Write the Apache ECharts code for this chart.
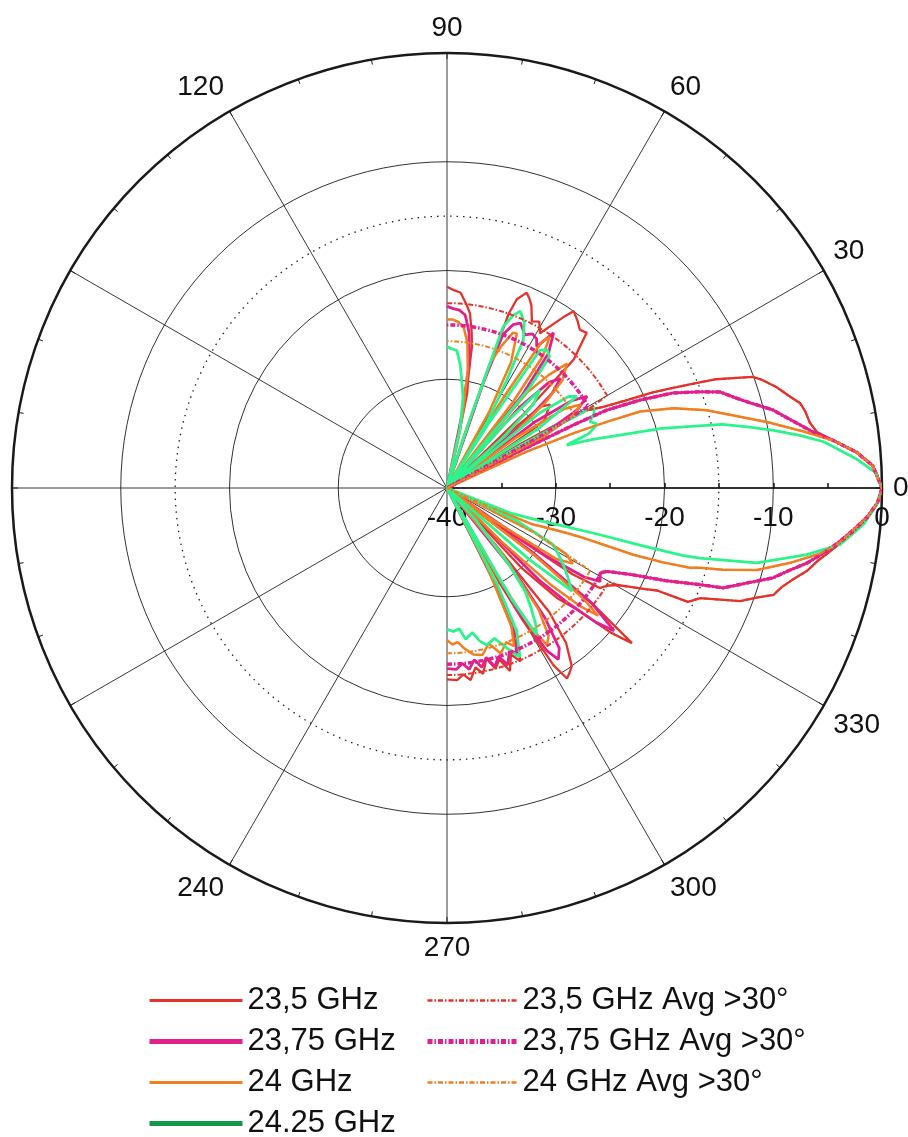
<!DOCTYPE html>
<html>
<head>
<meta charset="utf-8">
<script src="https://cdn.jsdelivr.net/npm/echarts@6/dist/echarts.min.js"></script>
<style>
html,body{margin:0;padding:0;background:#fff;}
#c{width:908px;height:1137px;}
</style>
</head>
<body>
<div id="c"></div>
<script>
// ---- data: [angle (deg, -90..90), level (dB)] ----
const red235 = [[-90,-22.4],[-87,-22.3],[-85,-22.8],[-83,-22.2],[-81,-23.3],[-79,-22.6],[-77,-23.9],[-75,-22.8],[-73,-23.5],[-71,-22.2],[-69,-23.6],[-67,-22.7],[-65,-25],[-63.5,-30],[-62,-40],[-61,-30],[-60.2,-26],[-59,-21],[-57.8,-19.3],[-56.5,-19.6],[-55,-20],[-52.5,-22],[-50.5,-25.2],[-49.5,-33],[-48.5,-40],[-47,-30],[-45,-25.7],[-43,-23.5],[-41.5,-20],[-40,-17.8],[-38.5,-23],[-37.5,-30],[-36.5,-40],[-35.5,-33],[-34.5,-26],[-33.2,-23.2],[-31.5,-22.8],[-29.7,-22],[-28.5,-21],[-27,-19.5],[-26,-18.5],[-25.3,-15.5],[-23.5,-14.6],[-21.1,-11.1],[-19.5,-9.8],[-18.1,-8.4],[-16.5,-7.9],[-15,-7.2],[-13,-6.05],[-11,-5.2],[-9.4,-4.3],[-8,-3.5],[-6,-2.3],[-4,-1.2],[-2,-0.4],[0,0],[2,-0.5],[3,-0.8],[5,-2.2],[7,-4.2],[8.6,-5.6],[10.2,-6.1],[12,-6.3],[13.5,-6.6],[15,-7.4],[17,-8.3],[19,-9.4],[20,-10.1],[21,-11.8],[22,-13.3],[23,-15.5],[24,-17.5],[25,-19.3],[26,-21.5],[27.4,-23.8],[29,-25.3],[30,-27.5],[31,-32],[32,-40],[33,-36],[34,-31],[35,-29],[37,-28.5],[39,-27.8],[41,-28.6],[42,-33],[43,-38],[44,-30],[45.4,-23.4],[46.7,-22.2],[48,-20.8],[50,-21],[52,-20.5],[54.4,-20],[55.5,-20.8],[57,-22],[59,-23.4],[61,-22.5],[63,-22.8],[65.2,-21.5],[66.5,-21],[67.8,-20.6],[69.7,-21.5],[70.5,-23],[71,-30],[72,-40],[76,-40],[77,-36],[78,-31],[79,-29.9],[80,-26.8],[81,-25.5],[82.5,-23.8],[84,-23],[86,-22],[88,-21.8],[90,-21.5]];

const mag2375 = [[-90,-23.4],[-87,-23.3],[-85,-23.8],[-83,-23.2],[-81,-24],[-79,-23.2],[-77,-24],[-75,-23],[-73,-23.8],[-71,-22.8],[-69,-24],[-67,-23.5],[-65,-25.5],[-63,-31],[-61.5,-40],[-60,-27],[-58.5,-22.5],[-57,-21.2],[-55,-22],[-53,-25],[-51,-30],[-49.5,-40],[-46.5,-40],[-45,-28],[-43.5,-24.5],[-42,-21.5],[-40.5,-19.8],[-38.5,-23],[-37,-30],[-35.8,-40],[-34.5,-29],[-33,-25],[-31.4,-23.5],[-29,-23.9],[-27.5,-23.4],[-25,-21.1],[-23,-18.2],[-20.9,-15.1],[-19.9,-13],[-17.5,-11],[-15.4,-8.9],[-13.5,-7.6],[-11.8,-6.2],[-10,-5],[-8,-3.7],[-6,-2.5],[-4,-1.3],[-2,-0.4],[0,0],[3,-0.8],[5,-2.2],[7,-4.2],[8.7,-5.95],[10.1,-7],[12,-8.3],[13.5,-9.2],[15.7,-11.05],[17.5,-12.3],[19.4,-13.4],[20.8,-15.1],[22.8,-17.45],[24.5,-20.5],[26,-23.65],[26.5,-27],[27,-33],[27.5,-40],[29,-30],[31,-26],[33.2,-24.6],[35,-26],[37,-30],[38,-40],[40,-31],[42,-27],[44,-25.5],[46,-26.5],[48,-30],[49,-40],[51,-29],[53,-24.5],[55.5,-22.7],[57.6,-24.6],[59,-24],[61,-23.8],[63,-24.2],[66,-23.4],[68,-23.8],[70,-25],[71,-30],[72,-40],[77,-40],[78.5,-33],[80,-28],[82,-25.5],[84,-24],[86,-23.6],[88,-23.5],[90,-23.3]];

const ora24 = [[-90,-26],[-88,-25.6],[-86,-25.8],[-84,-25.2],[-81,-24.5],[-78,-24.3],[-75,-25.2],[-72,-24],[-69,-24.8],[-67,-24.2],[-65,-26],[-63,-32],[-61.5,-40],[-60.5,-31],[-59,-25],[-57.5,-22.9],[-55.5,-23.5],[-53,-26],[-50,-32],[-48,-40],[-45.5,-40],[-44.5,-33],[-43,-27],[-41.5,-23.5],[-40.2,-21.8],[-39,-24],[-37.5,-30],[-36,-40],[-35,-35],[-33,-28],[-31,-26.5],[-29,-27.5],[-27,-31],[-25,-40],[-24,-36],[-23,-31.4],[-22,-30.5],[-20.5,-28],[-20.1,-26.6],[-19.7,-21.8],[-19,-19],[-18.2,-16.5],[-17.5,-15.6],[-16.5,-13.5],[-14.8,-10.5],[-12.3,-7.7],[-10,-5.2],[-8,-3.6],[-6,-2.5],[-4,-1.3],[-2,-0.4],[0,0],[3,-0.8],[5,-2.2],[7,-4.2],[9,-6.8],[11.5,-9.8],[14,-12.6],[16.7,-15.1],[19.4,-17.9],[21.6,-20.9],[22.5,-24.1],[23.4,-27.3],[24.5,-32],[25.5,-40],[28,-30],[30,-26.5],[32,-25.5],[34,-27],[36,-32],[37,-40],[39,-32],[41,-28],[43,-25.5],[46,-24.1],[48,-26],[50,-28.5],[51,-40],[52.5,-30],[54,-25],[55.8,-23.2],[57,-24],[58,-30],[59,-40],[61,-32],[63,-27],[65.7,-24.4],[67,-24.5],[69,-26],[71,-27.9],[72,-35],[73,-40],[77,-40],[78,-33],[80,-29],[82,-26.5],[84,-25.2],[86,-24.7],[88,-24.5],[90,-24.5]];

const grn2425 = [[-90,-27],[-87.5,-26.8],[-85,-27],[-83,-26],[-80,-26.5],[-77.9,-25.6],[-75.8,-25.1],[-72.5,-25.5],[-70,-24.5],[-67.5,-23.4],[-66.6,-23.1],[-64,-25.4],[-62.5,-30],[-61,-40],[-59.8,-28],[-58.6,-24.2],[-57,-25],[-55,-26.5],[-53,-28],[-51,-31],[-48,-36],[-45,-40],[-42,-40],[-41,-30],[-39.5,-25.1],[-37,-26],[-34,-27],[-31,-28],[-28,-29],[-25,-33],[-22.5,-40],[-21.6,-33.8],[-19.5,-31],[-18,-28.5],[-17,-25.3],[-16.5,-21.5],[-16,-17.5],[-15.5,-15.9],[-13.6,-10.7],[-10.5,-6.35],[-8.2,-3.5],[-5,-1.55],[-2.2,-0.45],[0,0],[2,-0.5],[4,-2.2],[6,-4.2],[7,-5.1],[8.5,-7.2],[10,-9.5],[11.5,-11.8],[13,-14],[14,-16.5],[15.5,-19.5],[17,-23.4],[18.5,-26],[19.7,-28.3],[21,-26],[23,-25],[25,-25.5],[27,-24.8],[29,-24.6],[30,-32],[31,-40],[33,-30],[35.2,-25.4],[37,-26],[39,-29],[40,-40],[42,-33],[44,-29],[46.5,-27.6],[48,-32],[49,-40],[50.5,-28],[52,-24.7],[54,-24.3],[56,-24.7],[57.2,-33],[57.8,-40],[58.5,-33],[61,-28.7],[62.7,-24.7],[65,-23.2],[67.5,-22.4],[69,-23],[70.8,-24.3],[71.5,-33],[72.5,-40],[76,-40],[77.4,-34.5],[80,-31.5],[82.2,-30],[84,-28.5],[86,-27.3],[88,-27.2],[90,-27]];

// average levels beyond 30 deg: [lower half (-90..-30), upper half (30..90)]
const avg235 = [-22.8, -23];
const avg2375 = [-23.8, -25];
const avg24 = [-24.8, -26.5];

const hiddenAngleLabels = [150,180,210,360];
const radiusTicks = [-40,-30,-20,-10,0];
const refRing = -15;

const names = ['23,5 GHz','23,75 GHz','24 GHz','24.25 GHz','23,5 GHz Avg >30°','23,75 GHz Avg >30°','24 GHz Avg >30°'];
const colors = {red:'#e3342b', mag:'#e2208c', ora:'#f07f22', grn:'#2cf48c', grnLegend:'#13964a'};

// ---- helpers ----
function toPolar(pairs){ return pairs.map(p => [p[1], (p[0] + 360) % 360]); }
function avgCurve(pattern, lv){
  const pts = [];
  for (let a = -90; a <= -30; a += 2) pts.push([a, lv[0]]);
  pattern.forEach(p => { if (p[0] > -30 && p[0] < 30) pts.push(p); });
  for (let a = 30; a <= 90; a += 2) pts.push([a, lv[1]]);
  return pts;
}
const ringPts = [];
for (let a = 0; a <= 360; a += 2) ringPts.push([refRing, a]);

const chart = echarts.init(document.getElementById('c'));
const FONT = 'Liberation Sans, Arial, sans-serif';

function solid(name, data, color, width){
  return {name, type:'line', coordinateSystem:'polar', data: toPolar(data), symbol:'none',
    lineStyle:{color, width}, itemStyle:{color}, animation:false, z:3};
}
function dashed(name, data, color, width, dash){
  return {name, type:'line', coordinateSystem:'polar', data: toPolar(data), symbol:'none',
    lineStyle:{color, width, type: dash}, itemStyle:{color}, animation:false, z:4};
}
const legendCommon = {
  orient:'vertical', top:985, height:170, padding:0, itemHeight:14, itemGap:10,
  textStyle:{fontSize:31, color:'#111', fontFamily:FONT},
  itemStyle:{opacity:0}, selectedMode:false
};

chart.setOption({
  backgroundColor:'#fff',
  animation:false,
  polar:{center:[447,488], radius:435},
  angleAxis:{
    type:'value', min:0, max:360, interval:30, startAngle:0, clockwise:false,
    axisLine:{show:true, lineStyle:{color:'#1a1a1a', width:2.5}},
    axisTick:{show:true, inside:true, length:6, lineStyle:{color:'#1a1a1a', width:1}},
    minorTick:{show:true, splitNumber:3, length:5, lineStyle:{color:'#1a1a1a', width:1}},
    splitLine:{show:true, lineStyle:{color:'#222', width:0.9}},
    axisLabel:{show:true, margin:11, fontSize:28, color:'#111', fontFamily:FONT,
      formatter: v => hiddenAngleLabels.indexOf(v) >= 0 ? '' : String(v)}
  },
  radiusAxis:{
    type:'value', min:radiusTicks[0], max:radiusTicks[radiusTicks.length-1], interval:10,
    axisLine:{show:true, lineStyle:{color:'#111', width:1.5}},
    axisTick:{show:true, inside:false, length:5, lineStyle:{color:'#111', width:1.5}},
    minorTick:{show:true, splitNumber:2, length:5, lineStyle:{color:'#111', width:1.5}},
    splitLine:{show:true, lineStyle:{color:'#333', width:1}},
    axisLabel:{show:true, margin:-44, fontSize:28, color:'#111', fontFamily:FONT}
  },
  legend:[Object.assign({}, legendCommon, {
    left:147, itemWidth:93,
    data:[{name:names[0], lineStyle:{width:3}},{name:names[1], lineStyle:{width:5}},{name:names[2], lineStyle:{width:3}},
      {name:names[3], lineStyle:{color:colors.grnLegend, width:5}}]
  }), Object.assign({}, legendCommon, {
    left:425, itemWidth:90,
    data:[{name:names[4], lineStyle:{width:2.5}},{name:names[5], lineStyle:{width:5}},{name:names[6], lineStyle:{width:2.5}}]
  })],
  series:[
    {name:'ref', type:'line', coordinateSystem:'polar', data:ringPts, symbol:'none', silent:true,
      lineStyle:{color:'#222', width:1.3, type:[1.5,5]}, z:2, animation:false},
    solid(names[0], red235, colors.red, 2.3),
    solid(names[1], mag2375, colors.mag, 2.8),
    solid(names[2], ora24, colors.ora, 2.5),
    solid(names[3], grn2425, colors.grn, 2.8),
    dashed(names[4], avgCurve(red235, avg235), colors.red, 2, [5,2,1.5,2]),
    dashed(names[5], avgCurve(mag2375, avg2375), colors.mag, 3.5, [5,2,1.5,2]),
    dashed(names[6], avgCurve(ora24, avg24), colors.ora, 2, [5,2,1.5,2])
  ]
});
</script>
</body>
</html>
